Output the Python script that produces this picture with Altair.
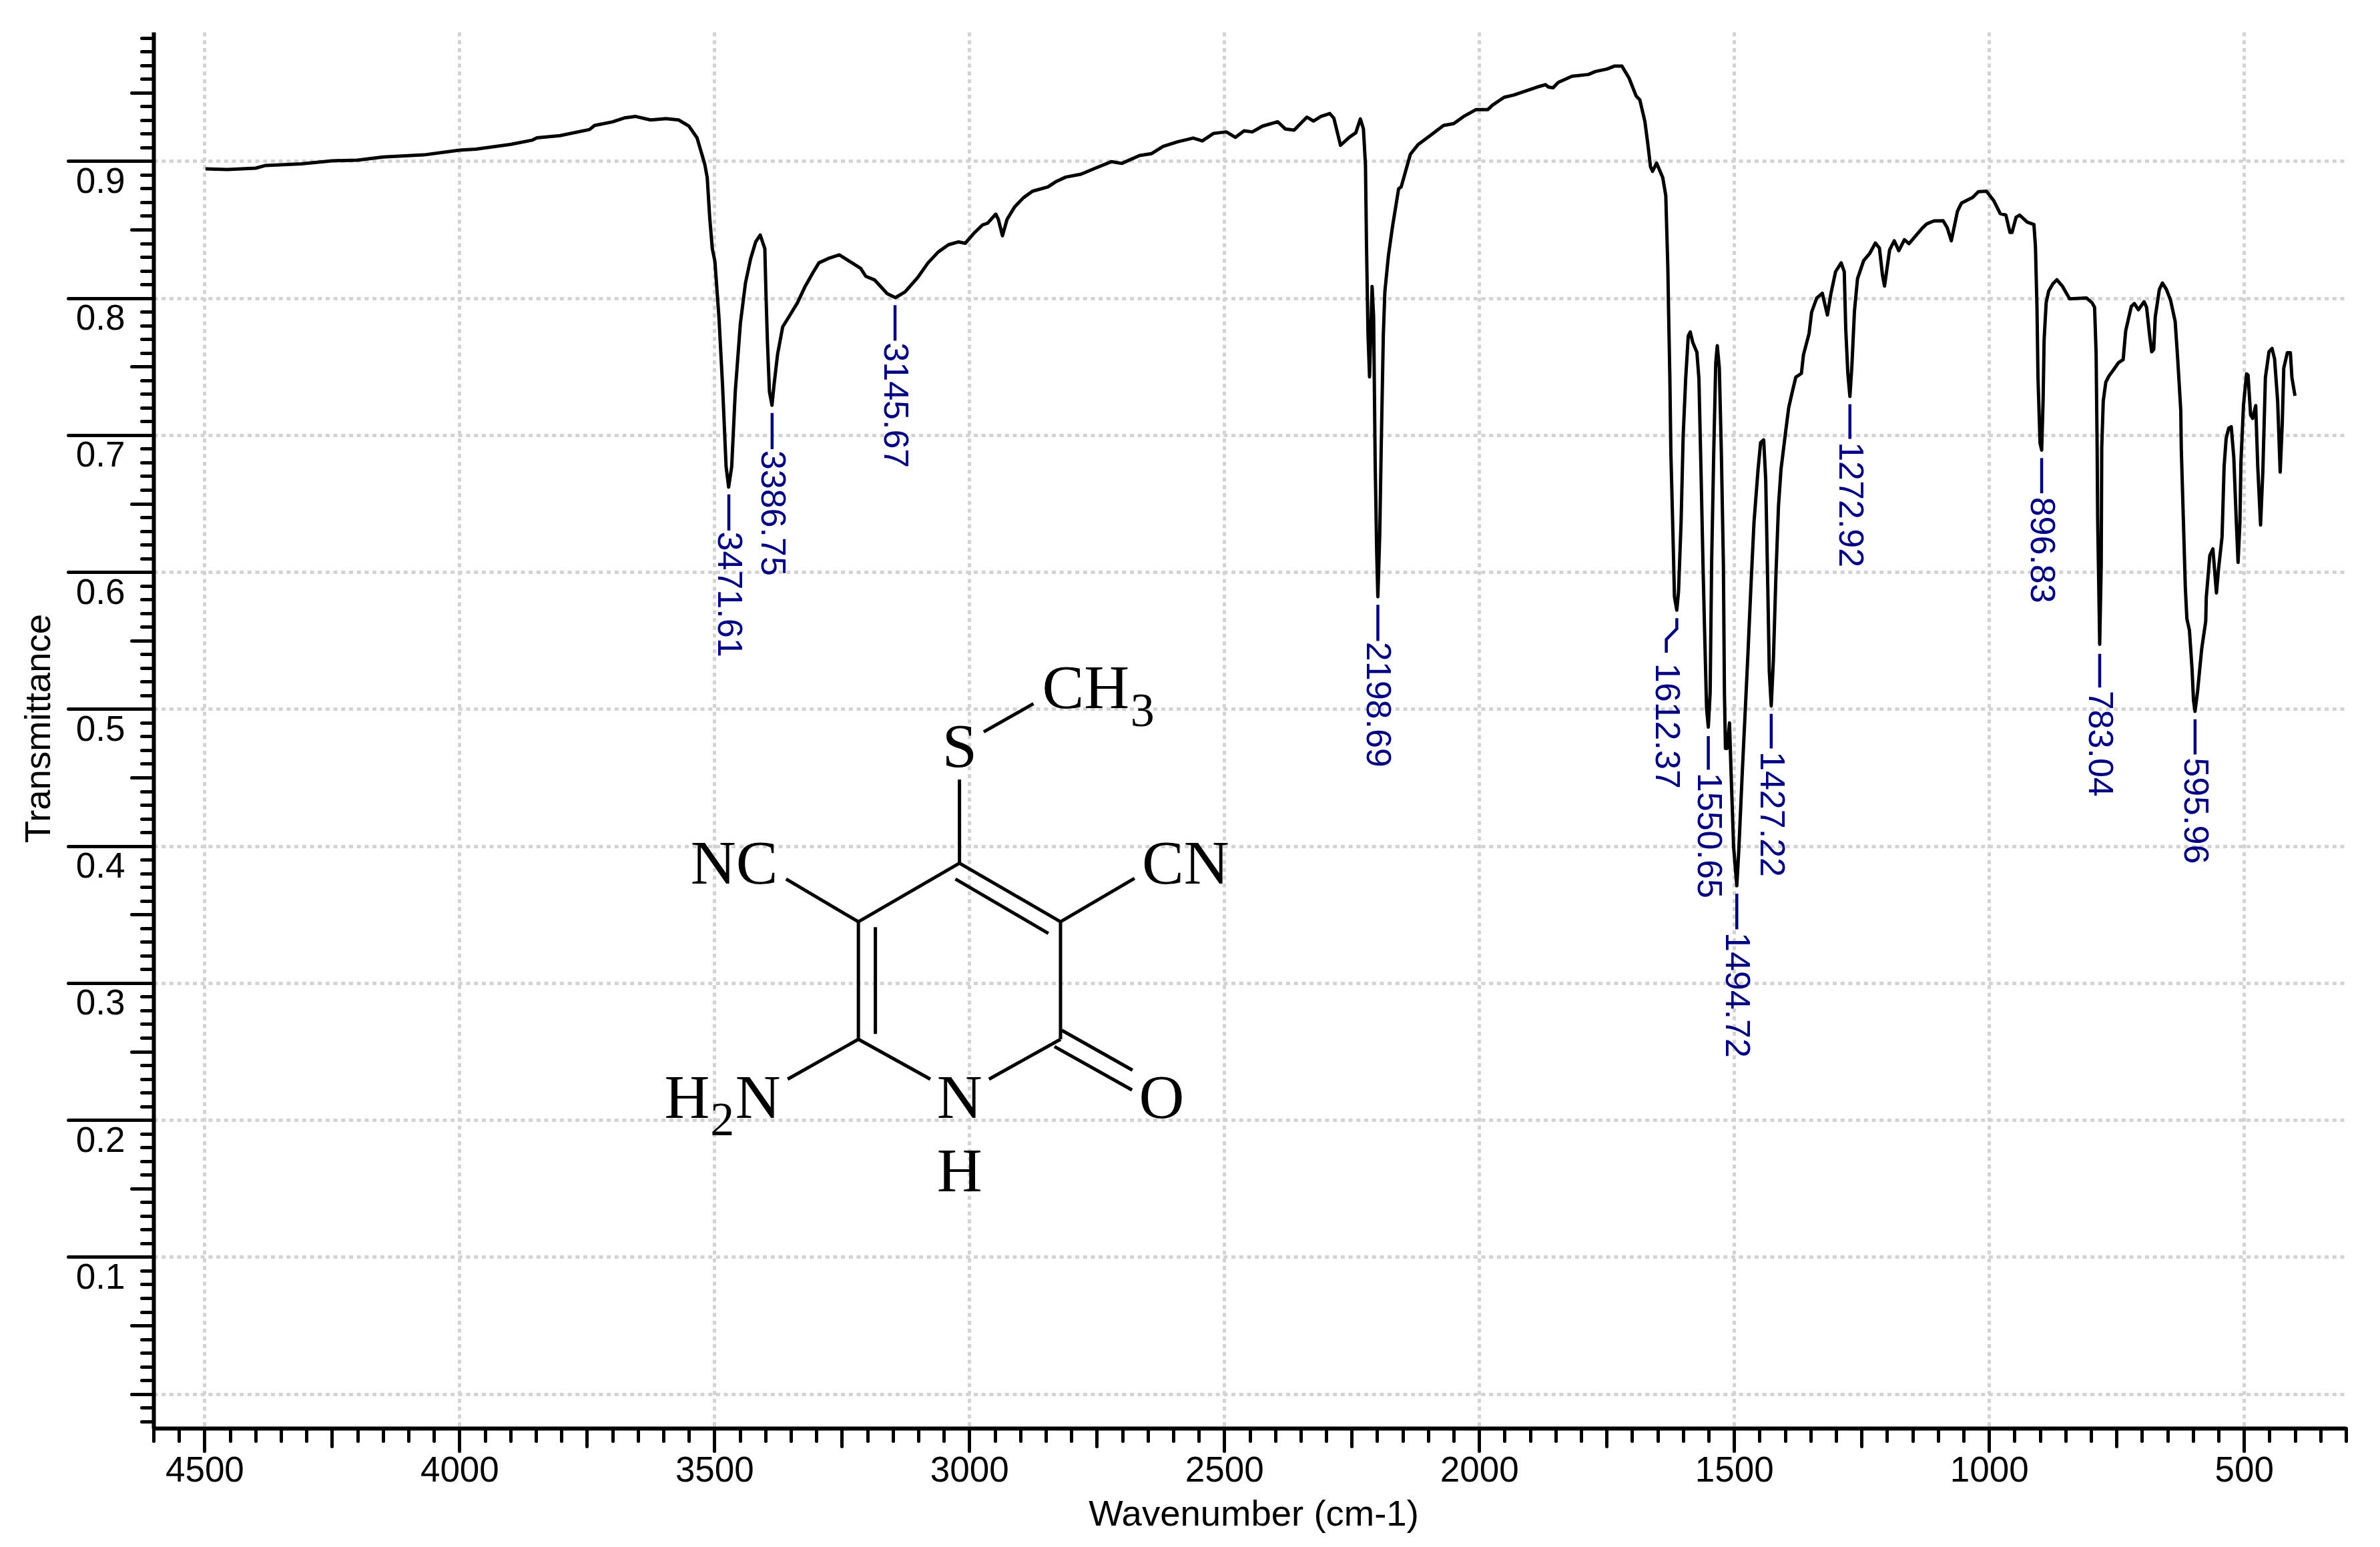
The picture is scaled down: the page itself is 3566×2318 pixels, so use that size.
import altair as alt
import pandas as pd

# ---------- spectrum ----------
wavenumber = [4498,4455,4400,4380,4310,4250,4200,4150,4070,4000,3968,3899,3858,3848,3803,3745,3735,3700,3675,3655,3625,3595,3570,3550,3534,3519,3514,3509,3504,3499,3491,3484,3477,3472,3466,3459,3449,3439,3429,3419,3410,3401,3399,3396,3392,3387,3383,3376,3366,3352,3337,3322,3307,3295,3277,3255,3230,3213,3203,3186,3161,3145,3126,3101,3081,3061,3041,3021,3008,2991,2974,2964,2948,2943,2935,2926,2911,2894,2876,2846,2831,2811,2781,2756,2721,2701,2666,2643,2620,2591,2561,2543,2521,2496,2478,2461,2445,2425,2395,2380,2363,2338,2325,2310,2293,2285,2278,2272,2255,2242,2233,2227,2223,2221,2218,2215,2210,2207,2204,2201,2198.7,2195,2192,2188,2185,2178,2170,2158,2153,2135,2120,2095,2070,2050,2029,2006,1983,1974,1951,1932,1882,1870,1864,1855,1845,1818,1786,1772,1749,1735,1720,1706,1692,1685,1675,1669,1664,1660,1652,1640,1634,1632,1630,1628.5,1626,1624,1620,1617,1612.4,1609,1604,1600,1595,1590,1586,1581,1573,1569,1565,1561,1558,1554,1550.6,1547,1544,1540,1536,1533,1529,1525,1521,1519,1517,1514,1509,1506,1501,1494.7,1491,1484,1473,1467,1461,1453,1448,1442,1438,1434,1431,1427.2,1423,1418,1413,1408,1399,1393,1386,1379,1368,1364,1353,1348,1338,1327,1317,1310,1301,1290,1284,1281,1277,1272.9,1269,1264,1258,1246,1234,1223,1215,1209,1205,1195,1186,1177,1166,1157,1131,1122,1108,1090,1082,1074,1062,1054,1032,1021,1005,991,978,967,959,955,947,940,925,912,909,906,904,900,896.8,894,892,888,883,875,867,856,842,809,798,793,790,788,787,784,783,780,779,776,771,765,757,746,737,732,721,715,707,696,691,685,681,677,674,666,660,652,644,635,630,624,623,619,615,612,607,602,599,596,591,583,575,574,567,561,557,554,550,543,539,535,530,525,520,515,511.6,508,506,501,495,492,487,483,477,473,467.5,463,458,451,445,440,434,429,425,422,415,409,406,400]
transmittance = [.8943,.8938,.8948,.8968,.898,.9002,.9007,.903,.9045,.908,.9087,.9122,.9152,.917,.9186,.923,.926,.9286,.9316,.9326,.930,.931,.930,.9256,.917,.898,.888,.858,.836,.827,.786,.7366,.677,.662,.677,.7317,.7814,.811,.8286,.841,.846,.836,.806,.769,.7317,.7217,.7366,.759,.779,.7874,.7966,.8085,.8183,.8257,.8288,.8315,.8257,.8217,.8159,.8133,.8032,.8003,.8045,.8151,.8257,.8336,.8389,.841,.84,.8473,.8534,.8547,.8613,.8574,.8455,.8574,.8666,.8732,.878,.8811,.8848,.8883,.8904,.8943,.8996,.8983,.9041,.9054,.9107,.9141,.9168,.9147,.9202,.9213,.9173,.9221,.9213,.9255,.9287,.9234,.9226,.9321,.9292,.9326,.9347,.9313,.9207,.9115,.9173,.9207,.9308,.9234,.897,.8389,.7729,.7425,.8085,.7861,.6804,.6144,.5819,.6276,.6936,.7729,.8045,.831,.8521,.8798,.8811,.9049,.912,.9189,.926,.9273,.9329,.9376,.9376,.9408,.9466,.9482,.9545,.9558,.954,.9535,.9574,.9619,.9632,.9654,.9672,.9693,.9693,.9606,.9474,.9448,.9289,.9118,.8959,.8925,.8985,.888,.8748,.8484,.8227,.79,.7411,.6868,.6285,.5819,.5722,.5858,.6363,.6984,.7411,.7722,.7753,.7675,.7605,.7411,.6751,.6052,.5586,.5004,.4868,.512,.609,.6868,.7528,.7652,.7489,.6868,.6052,.512,.4712,.4712,.4899,.4537,.3994,.371,.3955,.4537,.5392,.5897,.6363,.6751,.6945,.6965,.6673,.5897,.5276,.5023,.5353,.5974,.648,.6751,.7023,.7198,.7314,.7423,.745,.7586,.7741,.7897,.8,.8035,.7876,.8035,.8193,.8257,.8193,.777,.7454,.7282,.7507,.7903,.8141,.8273,.8326,.8402,.8365,.8167,.8088,.8352,.8418,.8346,.8426,.8397,.851,.8542,.8563,.8565,.8513,.8418,.8633,.8694,.8735,.8776,.878,.8712,.8616,.8606,.8479,.8479,.8589,.8606,.8554,.8537,.8377,.7932,.742,.6941,.689,.7249,.7693,.7966,.8052,.8103,.8134,.8086,.7994,.8001,.7966,.7932,.759,.6907,.6394,.5711,.5472,.6053,.6907,.7249,.7386,.743,.7471,.7529,.755,.7761,.7939,.796,.7915,.7973,.7932,.7727,.7608,.7625,.7864,.8062,.811,.8062,.7984,.783,.7556,.718,.6907,.6394,.5882,.566,.5574,.5301,.5062,.4983,.513,.5437,.5642,.5813,.6121,.6169,.5984,.5847,.6019,.6258,.677,.6975,.705,.7061,.6839,.636,.607,.636,.6804,.7215,.7447,.7437,.7146,.7122,.7215,.677,.6343,.6736,.742,.7608,.7632,.7556,.7249,.6729,.7078,.7488,.7601,.7601,.742,.7286]

# ---------- peak annotations ----------
peak_labels = ["3471.61","3386.75","3145.67","2198.69","1612.37","1550.65","1494.72","1427.22","1272.92","896.83","783.04","595.96"]
peak_label_x = [3471.61,3386.75,3145.67,2198.69,1633,1550.65,1494.72,1427.22,1272.92,896.83,783.04,595.96]
peak_label_y = [.6295,.6888,.7675,.5490,.5334,.4535,.3370,.4690,.6950,.6548,.5135,.4645]
leader_name = ["3471.61","3471.61","3386.75","3386.75","3145.67","3145.67","2198.69","2198.69","1612.37","1612.37","1612.37","1612.37","1550.65","1550.65","1494.72","1494.72","1427.22","1427.22","1272.92","1272.92","896.83","896.83","783.04","783.04","595.96","595.96"]
leader_x = [3471.61,3471.61,3386.75,3386.75,3145.67,3145.67,2198.69,2198.69,1612.37,1612.37,1633,1633,1550.65,1550.65,1494.72,1494.72,1427.22,1427.22,1272.92,1272.92,896.83,896.83,783.04,783.04,595.96,595.96]
leader_y = [.6567,.6303,.7161,.6897,.7948,.7689,.5761,.5497,.5663,.5586,.5508,.5411,.4802,.4557,.3652,.3392,.4965,.4712,.7225,.6972,.6832,.6575,.5403,.5157,.4925,.4668]

# ---------- structure drawn in the chart's own coordinates ----------
bond_x1 = [2971.7,3019.3,3019.3,3019.3,3027.2,2821.1,3217.5,3184.2,3359.3,2676,3356.2,3217.5,2961.4,2818.7,2833]
bond_y1 = [.4833,.4485,.3875,.3875,.3759,.3447,.3447,.3407,.3759,.3764,.2298,.2589,.2298,.2655,.2536]
bond_x2 = [2874.2,3019.3,3217.5,2821.1,2844.9,2821.1,3217.5,3184.2,3217.5,2821.1,3217.5,3076.4,2821.1,2680,2680.8]
bond_y2 = [.5039,.3875,.3447,.3447,.3362,.2589,.2589,.2628,.3447,.3447,.2589,.2298,.2589,.2364,.2219]
atom_text = ["CH","S","NC","CN","H","N","N","O","H"]
atom_x = [2857,3019,3461,2576,3598,3459,3019,2623,3019]
atom_y = [.5005,.4577,.3724,.3724,.2016,.2016,.2016,.2016,.1480]
atom_align = ["left","center","center","center","left","left","center","center","center"]
sub_text = ["3","2"]
sub_x = [2684,3508]
sub_y = [.4873,.1889]

x_ticks = list(range(4600, 250, -50))
y_ticks = [round(i / 100, 2) for i in range(-2, 100)]

FONT = "Liberation Sans"
SERIF = "Liberation Serif"
NAVY = "#000080"
xs = alt.Scale(domain=[4600, 300], nice=False, zero=False)
ys = alt.Scale(domain=[-0.025, 0.9942], nice=False, zero=False)

common_axis = dict(
    grid=True, gridColor="#d3d3d3", gridWidth=5, gridDash=[6, 5.7],
    domainColor="black", domainWidth=6, tickColor="black", tickWidth=5, tickCap="round",
    labelColor="black", labelFont=FONT, labelFontSize=53, labelOverlap=False,
    labelBound=False, labelFlush=False, titleFont=FONT, titleFontSize=54.5,
    titleFontWeight="normal", titleColor="black",
)
x_axis = alt.Axis(
    values=x_ticks, format="d", title="Wavenumber (cm-1)", orient="bottom",
    tickSize={"condition": [{"test": "datum.value % 500 === 0", "value": 34},
                            {"test": "datum.value % 250 === 0", "value": 27}], "value": 19},
    gridOpacity={"condition": {"test": "datum.value % 500 === 0", "value": 1}, "value": 0},
    labelExpr="datum.value % 500 === 0 ? datum.label : ''",
    labelBaseline="alphabetic", labelPadding=45, labelAlign="center",
    titleX=1648, titleY=145, titleAnchor="middle", titleBaseline="alphabetic", titleAngle=0,
    **common_axis,
)
y_axis = alt.Axis(
    values=y_ticks, format=".1f", title="Transmittance", orient="left",
    tickSize={"condition": [{"test": "datum.value > 0.05 && round(datum.value * 100) % 10 === 0", "value": 128},
                            {"test": "round(datum.value * 100) % 5 === 0", "value": 33}], "value": 18},
    gridOpacity={"condition": {"test": "round(datum.value * 100) % 10 === 0", "value": 1}, "value": 0},
    labelExpr="datum.value > 0.05 && round(datum.value * 100) % 10 === 0 ? datum.label : ''",
    labelBaseline="middle", labelAlign="right", labelPadding=-85, labelOffset=31,
    titleX=-156, titleY=1043, titleAnchor="middle", titleBaseline="alphabetic", titleAngle=270,
    **common_axis,
)

X = lambda f: alt.X(f, scale=xs, axis=x_axis)
Y = lambda f: alt.Y(f, scale=ys, axis=y_axis)

curve = alt.Chart(pd.DataFrame({"wn": wavenumber, "t": transmittance})).mark_line(
    color="black", strokeWidth=5, strokeJoin="round", clip=False
).encode(x=X("wn:Q"), y=Y("t:Q"))

leader_df = pd.DataFrame({"name": leader_name, "wn": leader_x, "t": leader_y, "i": range(len(leader_x))})
leaders = alt.Chart(leader_df).mark_line(color=NAVY, strokeWidth=4.5).encode(
    x=X("wn:Q"), y=Y("t:Q"), detail="name:N", order="i:Q",
)

labels = alt.Chart(pd.DataFrame({"wn": peak_label_x, "t": peak_label_y, "s": peak_labels})).mark_text(
    color=NAVY, font=FONT, fontSize=52, angle=90, align="left", baseline="middle"
).encode(x=X("wn:Q"), y=Y("t:Q"), text="s:N")

bonds = alt.Chart(pd.DataFrame({"wn": bond_x1, "t": bond_y1, "c": bond_x2, "d": bond_y2})).mark_rule(
    color="black", strokeWidth=5
).encode(x=X("wn:Q"), y=Y("t:Q"), x2="c:Q", y2="d:Q")

atom_df = pd.DataFrame({"wn": atom_x, "t": atom_y, "s": atom_text, "al": atom_align})
atom_layers = [
    alt.Chart(atom_df[atom_df.al == al]).mark_text(
        color="black", font=SERIF, fontSize=94, align=al, baseline="alphabetic"
    ).encode(x=X("wn:Q"), y=Y("t:Q"), text="s:N")
    for al in ("left", "center")
]
subs = alt.Chart(pd.DataFrame({"wn": sub_x, "t": sub_y, "s": sub_text})).mark_text(
    color="black", font=SERIF, fontSize=72, align="left", baseline="alphabetic"
).encode(x=X("wn:Q"), y=Y("t:Q"), text="s:N")

chart = alt.layer(curve, leaders, labels, bonds, *atom_layers, subs).properties(
    width=3285, height=2092,
    padding={"left": 222, "top": 40, "right": 35, "bottom": 160},
    autosize=alt.AutoSizeParams(type="none"),
    background="white",
).configure_view(stroke=None)

chart.save("out.html", embed_options={"renderer": "svg", "actions": False})
